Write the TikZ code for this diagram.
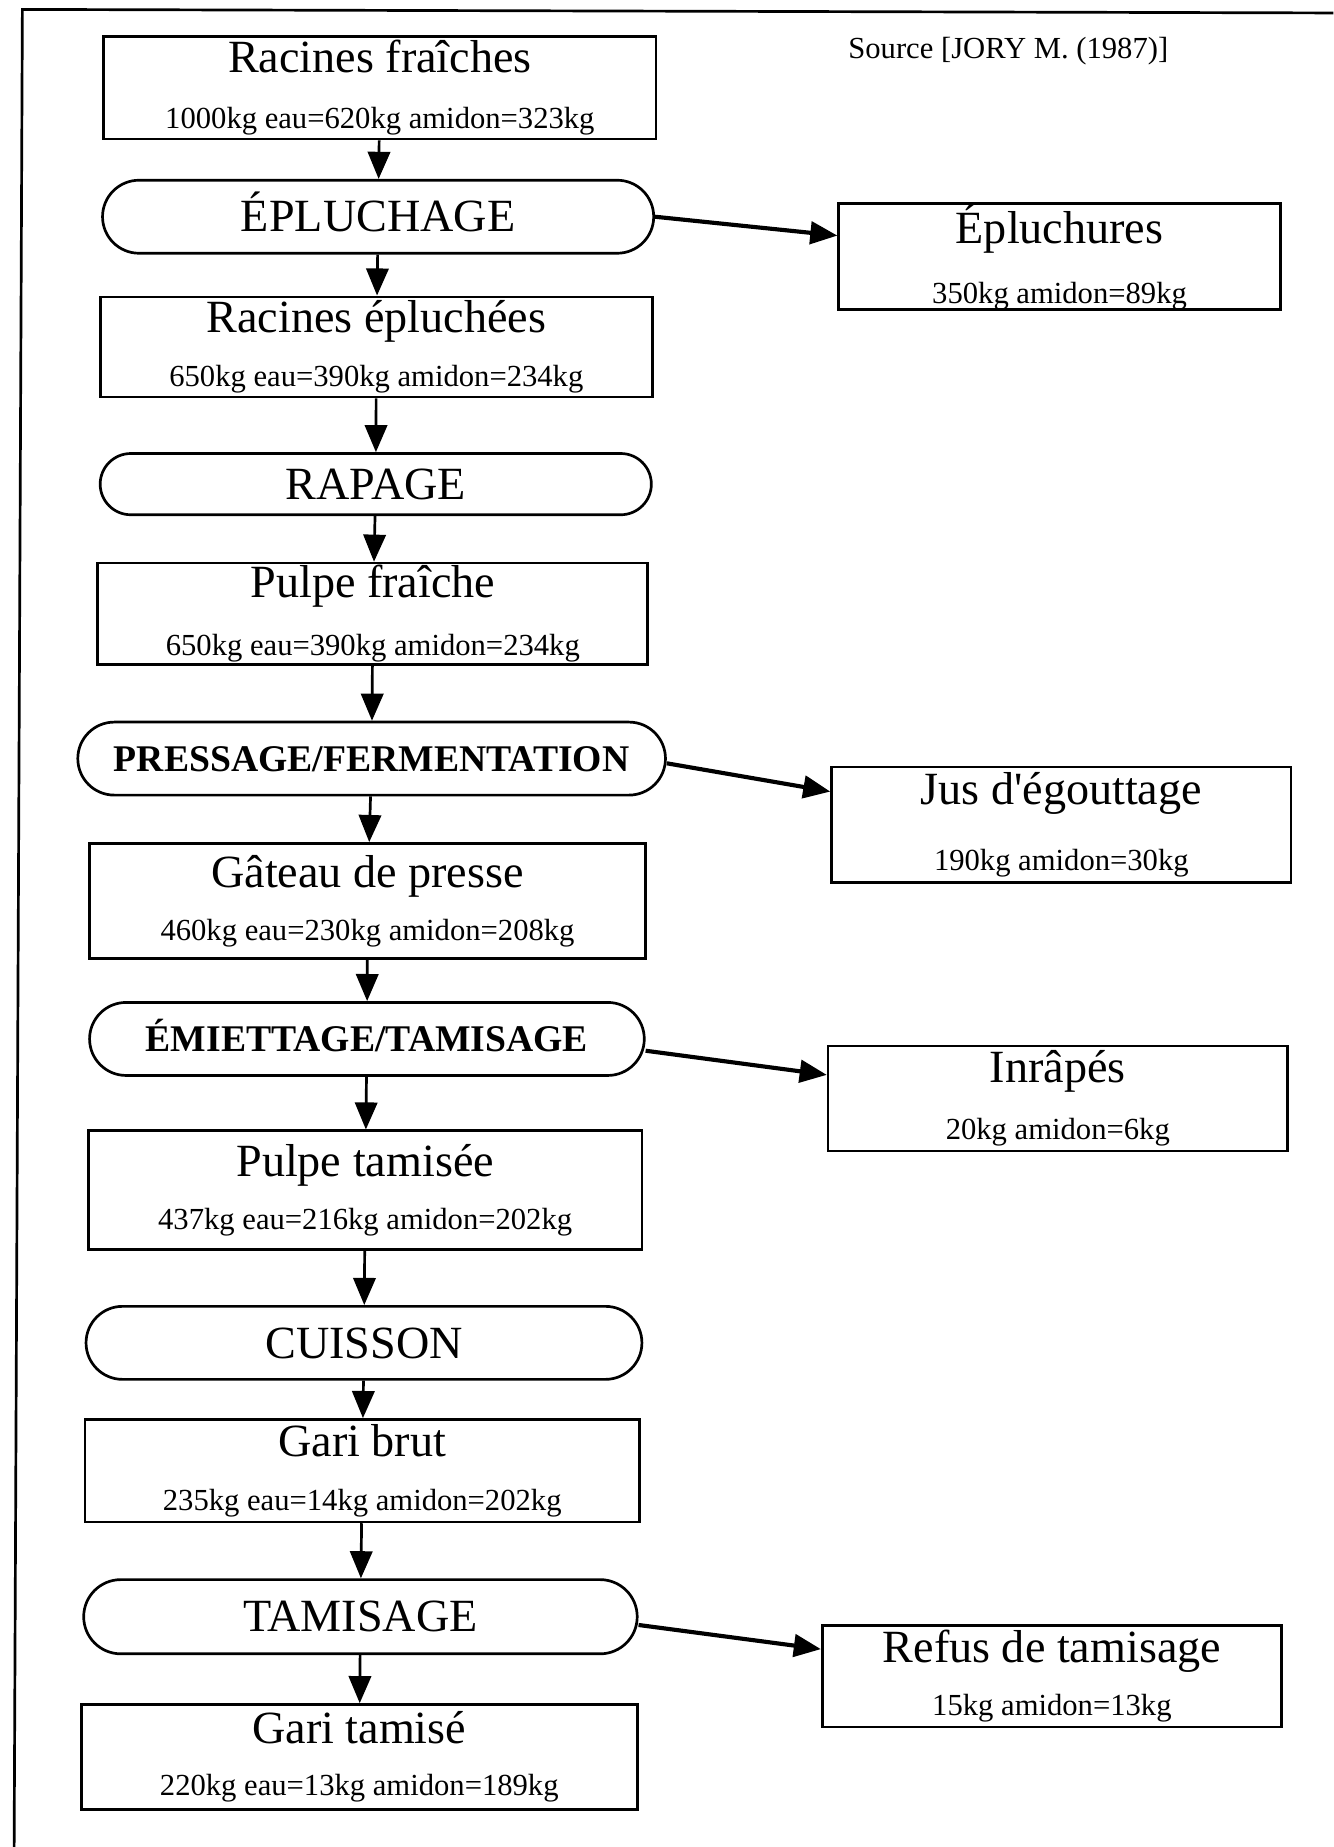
\documentclass[tikz,border=0pt]{standalone}
\usepackage{fontspec}
\setmainfont{Liberation Serif}
\usepackage{xcolor}
\definecolor{Black}{RGB}{0,0,0}
\definecolor{White}{RGB}{255,255,255}
\newcommand{\boxtitle}{\fontsize{22.3}{26}\selectfont}
\newcommand{\boxdata} {\fontsize{14.8}{17.8}\selectfont}
\newcommand{\stagebold}{\fontsize{18.2}{21}\selectfont\bfseries}
\usepackage{tikz}
\usetikzlibrary{arrows.meta, shapes.misc}

\begin{document}
\begin{tikzpicture}[x=0.02cm, y=-0.02cm,
		databox/.style={draw=Black, line width=1.3pt, rectangle, align=center, inner sep=0pt, font=\boxdata},
		stage/.style={draw=Black, line width=1.3pt, rounded rectangle, inner sep=0pt, minimum height=1.24cm, text height=14.7pt, text depth=0pt, font=\boxtitle},
		boldstage/.style={stage, text height=12pt, font=\stagebold},
		flow/.style={draw=Black, line width=1.3pt, -{Triangle[length=0.46cm, width=0.38cm]}},
		loss/.style={flow, line width=2pt}]
		
		\useasboundingbox (0,0) rectangle (1132,1568);
		
		% Frame
		\draw [draw=Black, line width=1.3pt] (1132,11) -- (19,8) -- (12,1568);
		
		% Products
		\node[databox, minimum width=9.38cm, minimum height=1.74cm] (rf) at (322.5,74.5) {{\boxtitle Racines fraîches}\\[9pt]1000kg eau=620kg amidon=323kg};
		\node[databox, minimum width=9.38cm, minimum height=1.70cm] (re) at (319.5,294.5) {{\boxtitle Racines épluchées}\\[8pt]650kg eau=390kg amidon=234kg};
		\node[databox, minimum width=9.34cm, minimum height=1.72cm] (pf) at (316.5,521) {{\boxtitle Pulpe fraîche}\\[10pt]650kg eau=390kg amidon=234kg};
		\node[databox, minimum width=9.44cm, minimum height=1.96cm] (gp) at (312,765) {{\boxtitle Gâteau de presse}\\[8pt]460kg eau=230kg amidon=208kg};
		\node[databox, minimum width=9.40cm, minimum height=2.02cm] (pt) at (310,1010.5) {{\boxtitle Pulpe tamisée}\\[7.5pt]437kg eau=216kg amidon=202kg};
		\node[databox, minimum width=9.42cm, minimum height=1.74cm] (gb) at (307.5,1248.5) {{\boxtitle Gari brut}\\[8.5pt]235kg eau=14kg amidon=202kg};
		\node[databox, minimum width=9.44cm, minimum height=1.78cm] (gt) at (305,1491.5) {{\boxtitle Gari tamisé}\\[7.5pt]220kg eau=13kg amidon=189kg};
		
		% Stages
		\node[stage, minimum width=9.36cm] (epl) at (321,184) {ÉPLUCHAGE};
		\node[stage, minimum width=9.36cm, minimum height=1.04cm] (rap) at (319,411) {RAPAGE};
		\node[boldstage, minimum width=9.98cm] (pre) at (315.5,644) {PRESSAGE/FERMENTATION};
		\node[boldstage, minimum width=9.42cm] (emi) at (311.5,882) {ÉMIETTAGE/TAMISAGE};
		\node[stage, minimum width=9.44cm] (cui) at (309,1140) {CUISSON};
		\node[stage, minimum width=9.40cm, minimum height=1.26cm] (tam) at (306,1372.5) {TAMISAGE};
		
		% Losses
		\node[databox, minimum width=7.50cm, minimum height=1.80cm] (eplu) at (899.5,218) {{\boxtitle Épluchures}\\[11pt]350kg amidon=89kg};
		\node[databox, minimum width=7.80cm, minimum height=1.96cm] (jus) at (901,700) {{\boxtitle Jus d\textquotesingle égouttage}\\[14pt]190kg amidon=30kg};
		\node[databox, minimum width=7.80cm, minimum height=1.78cm] (inr) at (898,932.5) {{\boxtitle Inrâpés}\\[9.5pt]20kg amidon=6kg};
		\node[databox, minimum width=7.80cm, minimum height=1.72cm] (ref) at (893,1423) {{\boxtitle Refus de tamisage}\\[7.5pt]15kg amidon=13kg};
		
		% Text
		\node[font=\boxdata] (src) at (856,43) {Source [JORY M. (1987)]};
		
		% Flows
		\draw[flow] (rf) -- (epl);
		\draw[flow] (epl) -- (re);
		\draw[flow] (re) -- (rap);
		\draw[flow] (rap) -- (pf);
		\draw[flow] (pf) -- (pre);
		\draw[flow] (pre) -- (gp);
		\draw[flow] (gp) -- (emi);
		\draw[flow] (emi) -- (pt);
		\draw[flow] (pt) -- (cui);
		\draw[flow] (cui) -- (gb);
		\draw[flow] (gb) -- (tam);
		\draw[flow] (tam) -- (gt);
		
		\draw[loss] (epl.east) -- ([yshift=0.36cm]eplu.west);
		\draw[loss] ([yshift=-0.08cm]pre.east) -- ([yshift=0.56cm]jus.west);
		\draw[loss] ([yshift=-0.2cm]emi.east) -- ([yshift=0.4cm]inr.west);
		\draw[loss] ([yshift=-0.14cm]tam.east) -- ([yshift=0.46cm]ref.west);
		
	\end{tikzpicture}
\end{document}
